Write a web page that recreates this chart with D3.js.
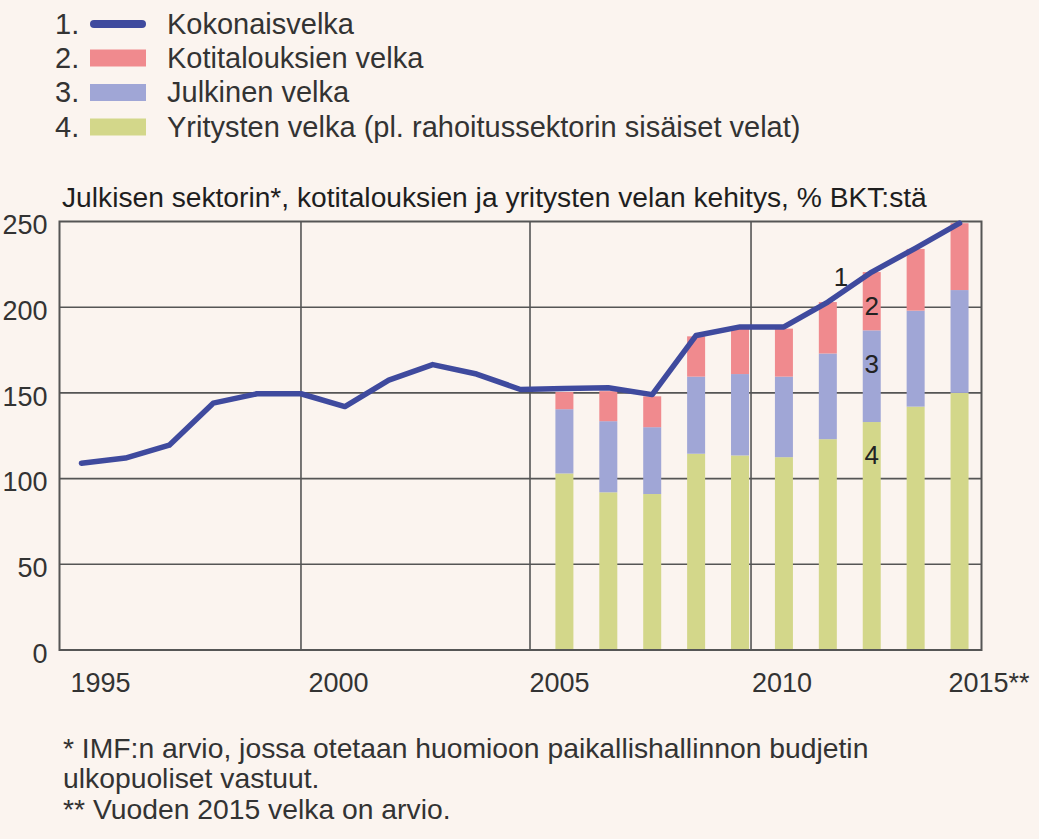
<!DOCTYPE html>
<html><head><meta charset="utf-8">
<script src="https://cdn.jsdelivr.net/npm/d3@7"></script>
<style>
html,body{margin:0;padding:0;background:#fbf4ef;}
svg{display:block;font-family:"Liberation Sans",Arial,Helvetica,sans-serif;}
</style></head><body>
<svg id="chart" width="1039" height="839"></svg>
<script>
// ---------- data ----------
const lineYears = [1995,1996,1997,1998,1999,2000,2001,2002,2003,2004,2005,2006,2007,2008,2009,2010,2011,2012,2013,2014,2015];
const totalDebt = [109,112,119.5,144,149.5,149.5,142,157.5,166.5,161,152,152.5,153,149,183.5,188.5,188.5,203,220.5,234.5,249];
const barYears = [2006,2007,2008,2009,2010,2011,2012,2013,2014,2015];
const corporateDebt = [103,92,91,114.5,113.5,112.5,123,133,142,150];
const publicDebt = [37.5,41.5,39,45,47.5,47,50,53.5,56,60];
const householdDebt = [10,17.5,18,23.5,26.5,28,30,34,36,39];
const yTicks = [0,50,100,150,200,250];
const xTickYears = [1995,2000,2005,2010,2015];
const xTickLabels = ["1995","2000","2005","2010","2015**"];
const legendNumbers = ["1.","2.","3.","4."];
const legendLabels = ["Kokonaisvelka","Kotitalouksien velka","Julkinen velka","Yritysten velka (pl. rahoitussektorin sisäiset velat)"];
const titleText = "Julkisen sektorin*, kotitalouksien ja yritysten velan kehitys, % BKT:stä";
const footnotes = ["* IMF:n arvio, jossa otetaan huomioon paikallishallinnon budjetin","ulkopuoliset vastuut.","** Vuoden 2015 velka on arvio."];
const seriesLabels = ["1","2","3","4"];

// ---------- styles ----------
const C = {
  line: "#3f4a9e", household: "#f08a8e", public: "#a0a6d6", corporate: "#d3d78a",
  grid: "#555555", text: "#333333", title: "#1e1e1e"
};

const svg = d3.select("#chart");
const X0 = 59.5, X1 = 981.5, Y0 = 650, Y1 = 221.5;
const x = d3.scaleLinear().domain([1994.5, 2015.5]).range([X0, X1]);
const y = d3.scaleLinear().domain([0, 250]).range([Y0, Y1]);

// ---------- legend ----------
const legendBaselines = [34, 67.5, 102, 136.5];
const lg = svg.append("g").attr("font-size", 29).attr("fill", C.text);
legendNumbers.forEach((n, i) => {
  lg.append("text").attr("x", 55).attr("y", legendBaselines[i]).text(n);
  lg.append("text").attr("x", 167).attr("y", legendBaselines[i]).text(legendLabels[i]);
});
lg.append("line").attr("x1", 94).attr("x2", 142)
  .attr("y1", legendBaselines[0] - 10).attr("y2", legendBaselines[0] - 10)
  .attr("stroke", C.line).attr("stroke-width", 8).attr("stroke-linecap", "round");
[C.household, C.public, C.corporate].forEach((col, i) => {
  lg.append("rect").attr("x", 90).attr("width", 56)
    .attr("y", legendBaselines[i + 1] - 18).attr("height", 17).attr("fill", col);
});

// ---------- title ----------
svg.append("text").attr("x", 62).attr("y", 207).attr("font-size", 28.2)
  .attr("fill", C.title).text(titleText);

// ---------- grid ----------
const grid = svg.append("g").attr("stroke", C.grid).attr("stroke-width", 1.6);
grid.selectAll("line.h").data(yTicks.filter(v => v > 0 && v < 250)).join("line")
  .attr("class", "h").attr("x1", X0).attr("x2", X1)
  .attr("y1", d => y(d)).attr("y2", d => y(d));
const vNudge = [0, 9.5, 11];
grid.selectAll("line.v").data(xTickYears.slice(1, 4)).join("line")
  .attr("class", "v").attr("x1", (d, i) => x(d) + vNudge[i]).attr("x2", (d, i) => x(d) + vNudge[i])
  .attr("y1", Y1).attr("y2", Y0);

// ---------- stacked bars ----------
const stackData = barYears.map((yr, i) => ({year: yr, corporate: corporateDebt[i], public: publicDebt[i], household: householdDebt[i]}));
const keys = ["corporate", "public", "household"];
const stacked = d3.stack().keys(keys)(stackData);
const barW = 18;
svg.append("g").selectAll("g").data(stacked).join("g")
  .attr("fill", d => C[d.key])
  .selectAll("rect").data(d => d).join("rect")
  .attr("x", d => x(d.data.year) - barW / 2).attr("width", barW)
  .attr("y", d => y(d[1])).attr("height", d => y(d[0]) - y(d[1]));

// ---------- frame ----------
svg.append("rect").attr("x", X0).attr("y", Y1).attr("width", X1 - X0).attr("height", Y0 - Y1)
  .attr("fill", "none").attr("stroke", C.grid).attr("stroke-width", 2);

// ---------- line ----------
const lineData = lineYears.map((yr, i) => [yr, totalDebt[i]]);
svg.append("path").datum(lineData)
  .attr("fill", "none").attr("stroke", C.line).attr("stroke-width", 5.5)
  .attr("stroke-linejoin", "round").attr("stroke-linecap", "round")
  .attr("d", d3.line().x(d => x(d[0])).y(d => y(d[1])));

// ---------- axes ----------
const yAxis = svg.append("g").attr("transform", `translate(${X0 - 12},0)`)
  .call(d3.axisLeft(y).tickValues(yTicks).tickSize(0).tickPadding(0));
yAxis.select(".domain").remove();
yAxis.selectAll("text").attr("font-size", 27).attr("fill", C.text)
  .attr("font-family", "Liberation Sans, Arial, sans-serif").attr("dy", "0.45em");

const xNudge = [-11.5, 7, 8.5, 11.5, -11.5];
const xAxis = svg.append("g").attr("transform", `translate(0,${Y0})`)
  .call(d3.axisBottom(x).tickValues(xTickYears).tickFormat((d, i) => xTickLabels[i]).tickSize(0).tickPadding(0));
xAxis.select(".domain").remove();
xAxis.selectAll("text").attr("font-size", 27).attr("fill", C.text)
  .attr("font-family", "Liberation Sans, Arial, sans-serif")
  .attr("text-anchor", "start").attr("dy", null).attr("y", 42)
  .attr("x", (d, i) => xNudge[i]);

// ---------- series number labels ----------
const labelAnchors = [[2012.3, 218], [2013, 201], [2013, 167], [2013, 114]];
svg.append("g").attr("font-size", 26).attr("fill", "#222").attr("text-anchor", "middle")
  .selectAll("text").data(seriesLabels).join("text")
  .attr("x", (d, i) => x(labelAnchors[i][0])).attr("y", (d, i) => y(labelAnchors[i][1]))
  .attr("dy", "0.36em").text(d => d);

// ---------- footnotes ----------
const fnBaselines = [758, 788, 819];
svg.append("g").attr("font-size", 28.3).attr("fill", C.text)
  .selectAll("text").data(footnotes).join("text")
  .attr("x", 63).attr("y", (d, i) => fnBaselines[i]).text(d => d);
</script>
</body></html>
